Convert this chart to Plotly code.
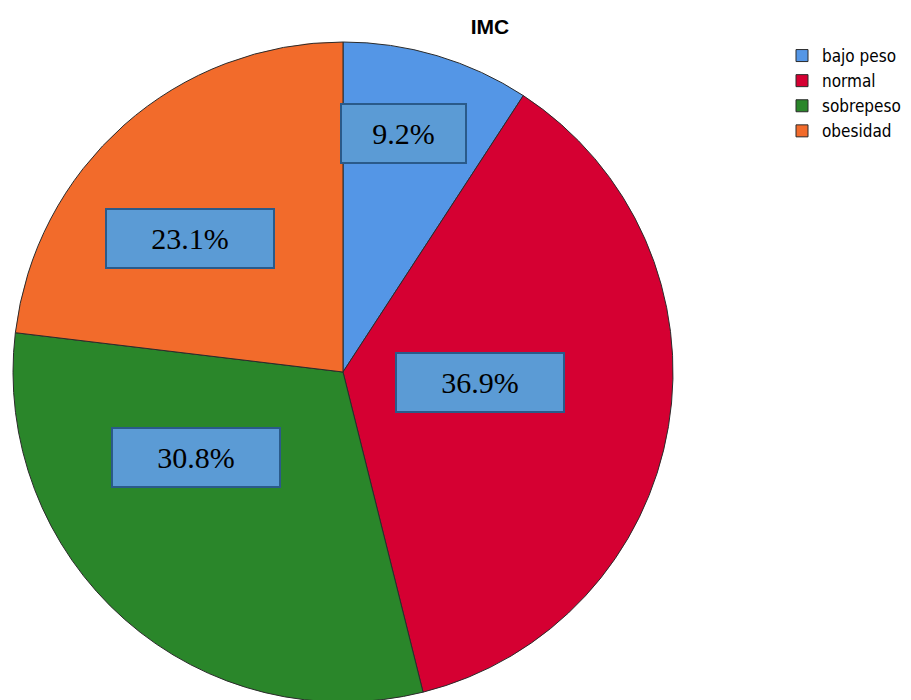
import math
import plotly.graph_objects as go

# ---- data ----
categories = ["bajo peso", "normal", "sobrepeso", "obesidad"]
percentages = [9.2, 36.9, 30.8, 23.1]
label_texts = ["9.2%", "36.9%", "30.8%", "23.1%"]

# ---- style / layout ----
slice_colors = ["#5496e6", "#d50032", "#2a862a", "#f26b2b"]
W, H = 911, 700
OFF = 8                               # page body margin offset
CX, CY, R = 343 - OFF, 372 - OFF, 330  # pie centre / radius in figure pixels
label_radius_frac = [0.745, 0.416, 0.516, 0.616]
label_angle_nudge = [-2.4, -5.3, 18.3, -7.2]   # degrees
label_box_w = [121, 164, 164, 164]

fig = go.Figure()
fig.add_trace(go.Pie(
    labels=categories,
    values=percentages,
    sort=False,
    direction="clockwise",
    rotation=0,
    marker=dict(colors=slice_colors, line=dict(color="#2b2b2b", width=1)),
    textinfo="none",
    hoverinfo="label+percent",
    domain=dict(x=[(CX - R) / W, (CX + R) / W],
                y=[max(0, 1 - (CY + R) / H), 1 - (CY - R) / H]),
))

# label boxes placed from the data (slice mid-angles)
annotations = []
cum = 0.0
total = sum(percentages)
for i, v in enumerate(percentages):
    mid = (cum + v / 2) / total * 360.0 + label_angle_nudge[i]
    cum += v
    d = R * label_radius_frac[i]
    px = CX + d * math.sin(math.radians(mid))
    py = CY - d * math.cos(math.radians(mid))
    annotations.append(dict(
        x=px / W, y=1 - py / H, xref="paper", yref="paper",
        text=label_texts[i], showarrow=False,
        font=dict(family="Liberation Serif", size=30, color="#000000"),
        bgcolor="#5b9bd5", bordercolor="#2a5a8a", borderwidth=2,
        width=label_box_w[i], height=55, align="center", valign="middle",
        xanchor="center", yanchor="middle",
    ))

fig.update_layout(
    width=W, height=H,
    margin=dict(l=0, r=0, t=0, b=0),
    paper_bgcolor="white", plot_bgcolor="white",
    title=dict(text="<b>IMC</b>", x=(490 - OFF) / W, xanchor="center",
               y=1 - (27 - OFF) / H, yanchor="middle",
               font=dict(family="Liberation Sans", size=21, color="#000000")),
    legend=dict(x=(782 - OFF) / W, y=1 - (38 - OFF) / H, xanchor="left", yanchor="top",
                font=dict(family="DejaVu Sans Condensed, Roboto Condensed, sans-serif",
                          size=17, color="#000000"),
                bgcolor="rgba(0,0,0,0)", itemwidth=30, tracegroupgap=0),
    annotations=annotations,
)

fig.write_html("out.html")
